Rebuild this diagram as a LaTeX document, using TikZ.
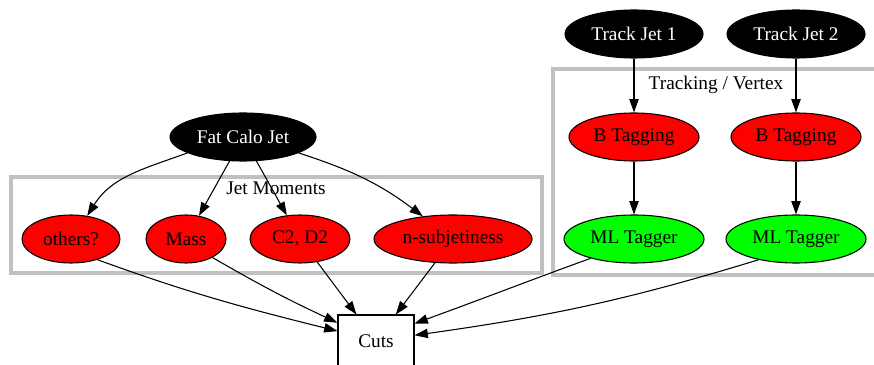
\documentclass[tikz,border=0pt]{standalone}
\usepackage{fontspec}
\setmainfont{Liberation Serif}
\usetikzlibrary{shapes.geometric,arrows.meta}
\definecolor{clustergray}{HTML}{C0C0C0}
\definecolor{gvred}{HTML}{FF0000}
\definecolor{gvgreen}{HTML}{00FF00}
\begin{document}
\begin{tikzpicture}[x=0.75pt,y=0.75pt,
  every node/.style={font=\fontsize{14.5}{16}\selectfont},
  oval/.style={ellipse, draw=black, line width=0.8pt, inner sep=0pt, minimum height=36pt},
  darkoval/.style={oval, fill=black, text=white},
  redoval/.style={oval, fill=gvred, text=black},
  greenoval/.style={oval, fill=gvgreen, text=black},
  cutbox/.style={rectangle, draw=black, line width=0.8pt, inner sep=0pt, minimum width=57pt, minimum height=38.5pt},
  cluster/.style={draw=clustergray, line width=3pt},
  edge/.style={draw=black, line width=0.8pt, -{Triangle[length=10pt,width=7pt]}}
]
\useasboundingbox (0,0) rectangle (874,364);
\clip (0,0) rectangle (874,364);

% clusters
\draw[cluster] (10.5,91) rectangle (542,187);
\draw[cluster] (553,89) rectangle (884,295);
\node (jmlabel) at (276,176) {Jet Moments};
\node (tvlabel) at (716,279) {Tracking / Vertex};

% nodes
\node[darkoval, minimum width=109.5pt] (fat) at (243,227) {Fat Calo Jet};
\node[redoval, minimum width=73.5pt] (others) at (71,125) {others?};
\node[redoval, minimum width=60pt] (mass) at (186,125) {Mass};
\node[redoval, minimum width=75pt] (c2) at (300,125) {C2, D2};
\node[redoval, minimum width=118.5pt] (nsub) at (453,125) {n-subjetiness};
\node[cutbox] (cuts) at (376,23.3) {Cuts};

\node[darkoval, minimum width=103.5pt] (tj1) at (634,330) {Track Jet 1};
\node[darkoval, minimum width=103.5pt] (tj2) at (796,330) {Track Jet 2};
\node[redoval, minimum width=97.5pt] (bt1) at (634,227) {B Tagging};
\node[redoval, minimum width=97.5pt] (bt2) at (796,227) {B Tagging};
\node[greenoval, minimum width=105pt] (ml1) at (634,125) {ML Tagger};
\node[greenoval, minimum width=105pt] (ml2) at (796,125) {ML Tagger};

% edges from Fat Calo Jet
\draw[edge] (fat.196) to[out=200, in=58] (others.55);
\draw[edge] (fat) -- (mass);
\draw[edge] (fat) -- (c2);
\draw[edge] (fat.344) to[out=342, in=143] (nsub.143);

% tracking
\draw[edge] (tj1) -- (bt1);
\draw[edge] (tj2) -- (bt2);
\draw[edge] (bt1) -- (ml1);
\draw[edge] (bt2) -- (ml2);

% into cuts
\draw[edge] (others.322) to[out=340, in=166] (cuts.166);
\draw[edge] (mass.325) to[out=330, in=155] (cuts.155);
\draw[edge] (c2) -- (cuts);
\draw[edge] (nsub) -- (cuts);
\draw[edge] (ml1.204) to[out=200, in=20] (cuts.24);
\draw[edge] (ml2.209) to[out=197, in=8] (cuts.8);
\end{tikzpicture}
\end{document}
